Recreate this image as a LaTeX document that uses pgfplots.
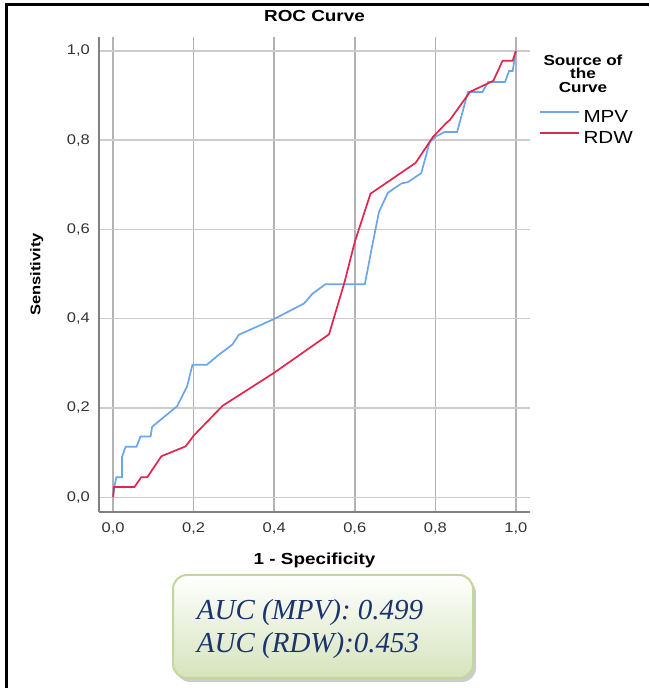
\documentclass[border=0pt]{standalone}
\usepackage{fontspec}
\setmainfont{Liberation Sans}
\newfontfamily\spss{Liberation Sans}[FakeStretch=1.18]
\newfontfamily\tnr{Liberation Serif}
\usepackage{pgfplots}
\pgfplotsset{compat=1.18}
\usetikzlibrary{shadows}

\definecolor{mpvblue}{RGB}{106,166,234}
\definecolor{rdwred}{RGB}{226,36,78}
\definecolor{aucnavy}{RGB}{28,52,108}
\definecolor{boxedge}{RGB}{196,215,155}
\definecolor{boxfill}{RGB}{214,227,188}

\begin{document}
\begin{tikzpicture}
\path[use as bounding box] (0,0) rectangle (649pt,688pt);
% frame of the screenshot
\draw[line width=3pt] (6.5pt,0) -- (6.5pt,683.3pt) -- (649pt,683.3pt);

\begin{axis}[
  at={(99pt,176pt)}, anchor=south west,
  scale only axis, width=431pt, height=475pt,
  xmin=-0.035, xmax=1.035, ymin=-0.033, ymax=1.031,
  axis lines=left,
  axis line style={-, draw=black!50, line width=1.5pt},
  xtick={0,0.2,0.4,0.6,0.8,1}, ytick={0,0.2,0.4,0.6,0.8,1},
  major tick length=0pt,
  grid=major,
  major x grid style={draw=black!30, line width=1.5pt},
  major y grid style={draw=black!20, line width=1.5pt},
  tick label style={font=\spss\fontsize{14}{14}\selectfont, text=black!80,
    /pgf/number format/fixed, /pgf/number format/fixed zerofill,
    /pgf/number format/precision=1, /pgf/number format/use comma,
    /pgf/number format/assume math mode=true},
  xticklabel style={anchor=north, inner sep=0pt, yshift=-11pt},
  yticklabel style={anchor=east, inner sep=0pt, xshift=-9pt},
  title={ROC Curve},
  title style={font=\spss\bfseries\fontsize{16}{16}\selectfont,
    at={(axis description cs:0.5,1.0316)}, anchor=center, inner sep=0pt},
  xlabel={1 - Specificity},
  xlabel style={font=\spss\bfseries\fontsize{16}{16}\selectfont,
    at={(axis description cs:0.5,-0.1025)}, anchor=center, inner sep=0pt},
  ylabel={Sensitivity},
  ylabel style={font=\spss\bfseries\fontsize{14}{14}\selectfont,
    at={(axis description cs:-0.1446,0.5)}, anchor=center, inner sep=0pt},
  legend style={at={(axis description cs:1.0209,0.8463)}, anchor=north west,
    draw=none, fill=none, inner sep=0pt, row sep=7.6pt, column sep=3.5pt,
    font=\spss\fontsize{17.5}{17.5}\selectfont, nodes={inner sep=0pt}},
  legend cell align=left,
  legend image code/.code={\draw[#1, line width=1.8pt] (0pt,5pt) -- (39pt,5pt);},
]
\addplot[mpvblue, line width=1.7pt] coordinates {
  (0,0) (0.003,0.023) (0.008,0.045) (0.022,0.045) (0.022,0.090)
  (0.031,0.113) (0.058,0.113) (0.068,0.136) (0.093,0.136) (0.097,0.158)
  (0.159,0.204) (0.184,0.249) (0.197,0.297) (0.233,0.297) (0.262,0.319)
  (0.296,0.342) (0.312,0.364) (0.399,0.399) (0.474,0.434) (0.495,0.456)
  (0.527,0.477) (0.625,0.477) (0.641,0.553) (0.660,0.639) (0.682,0.682)
  (0.716,0.703) (0.732,0.706) (0.765,0.726) (0.786,0.796) (0.803,0.809)
  (0.823,0.818) (0.854,0.818) (0.881,0.908) (0.917,0.908) (0.931,0.930)
  (0.973,0.930) (0.983,0.955) (0.992,0.955) (1,1)
};
\addplot[rdwred, line width=1.7pt] coordinates {
  (0,0) (0.002,0.023) (0.053,0.023) (0.070,0.045) (0.085,0.045)
  (0.120,0.092) (0.180,0.114) (0.201,0.139) (0.272,0.205) (0.400,0.279)
  (0.536,0.365) (0.574,0.480) (0.600,0.572) (0.639,0.680) (0.751,0.749)
  (0.794,0.807) (0.828,0.839) (0.836,0.845) (0.886,0.908) (0.944,0.933)
  (0.967,0.978) (0.992,0.978) (1,1)
};
\legend{MPV,RDW}
\end{axis}

% legend title
\node[align=center, inner sep=0pt,
  font=\spss\bfseries\fontsize{14.5}{13.5}\selectfont]
  at (583pt,614.5pt) {Source of\\the\\Curve};

% AUC box
\node[draw=boxedge, line width=2pt, rounded corners=14pt,
  top color=white, bottom color=boxfill,
  drop shadow={shadow xshift=3pt, shadow yshift=-4pt, fill=black!40, opacity=0.5},
  minimum width=300pt, minimum height=103pt] at (323pt,61.5pt) {};
\node[anchor=base west, inner sep=0pt, text=aucnavy,
  font=\tnr\itshape\fontsize{29}{29}\selectfont] at (196.7pt,68pt) {AUC (MPV): 0.499};
\node[anchor=base west, inner sep=0pt, text=aucnavy,
  font=\tnr\itshape\fontsize{29}{29}\selectfont] at (196.7pt,35pt) {AUC (RDW):0.453};
\end{tikzpicture}
\end{document}
